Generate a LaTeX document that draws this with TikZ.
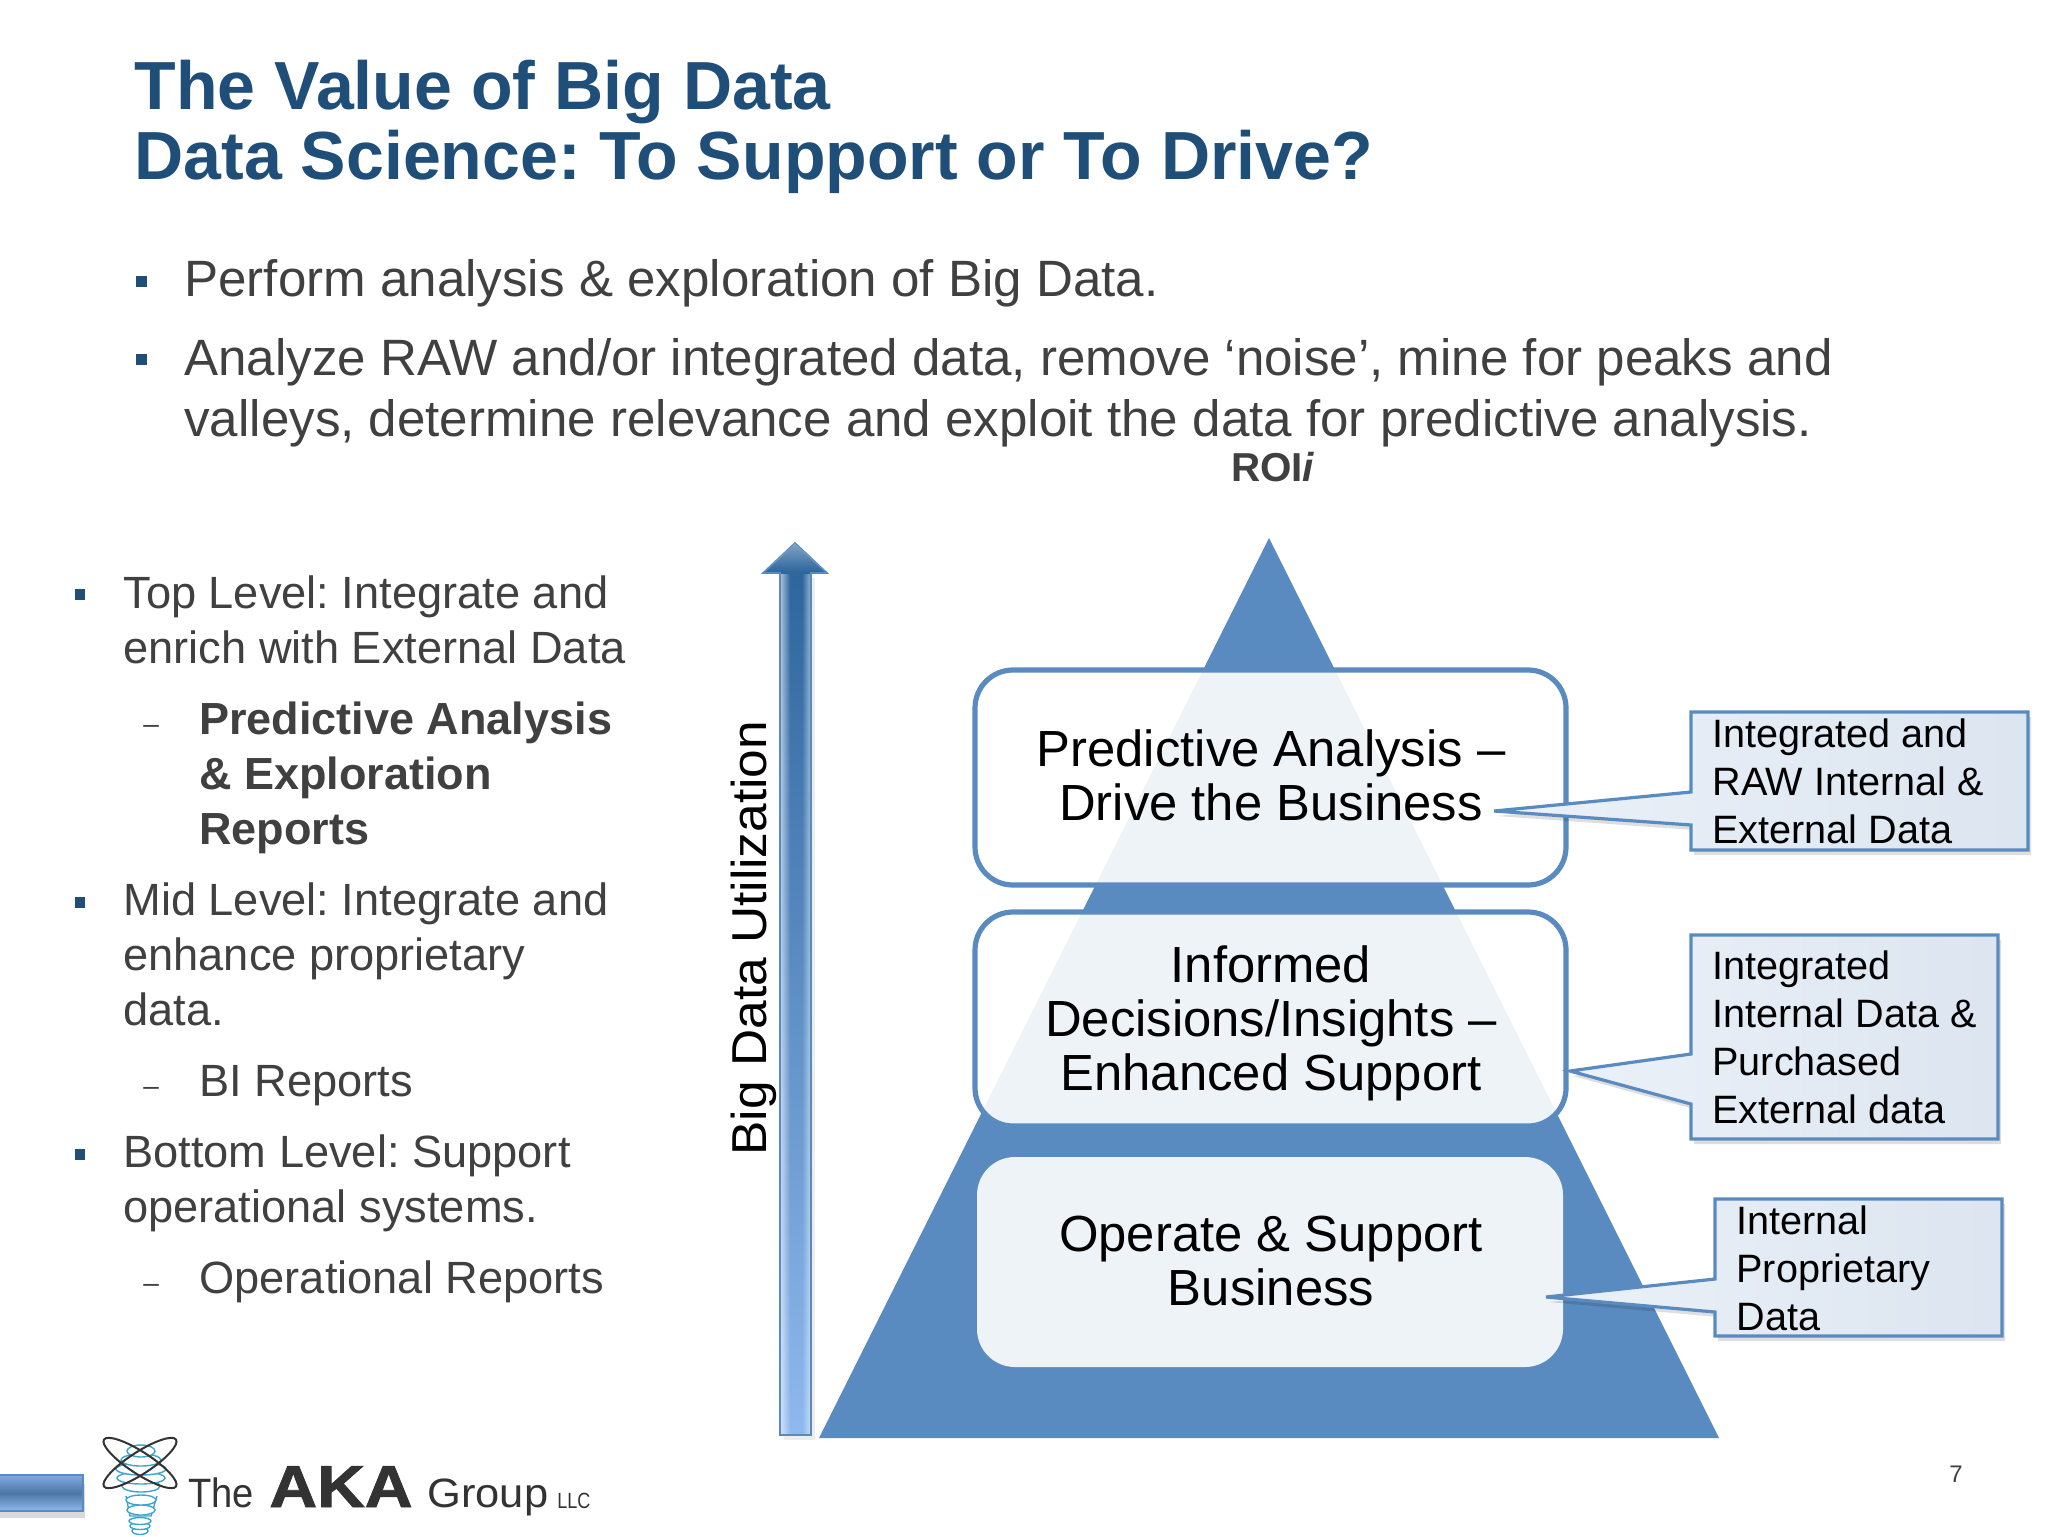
\documentclass[tikz,border=0pt]{standalone}
\usepackage{fontspec}
\setmainfont{Liberation Sans}
\newfontfamily\akafont[BoldFeatures={FakeBold=1.5}]{Liberation Sans}
\frenchspacing
\usetikzlibrary{fadings}
\definecolor{titleblue}{HTML}{1F4E79}
\definecolor{bodygray}{HTML}{404040}
\definecolor{pyr}{HTML}{5A8BC0}
\definecolor{calloutL}{HTML}{EBF1F8}
\definecolor{calloutR}{HTML}{DCE5F0}
\definecolor{bulbc}{HTML}{3FA3CC}
\definecolor{logogray}{HTML}{333333}
\definecolor{arrowtop}{HTML}{2B639B}
\definecolor{arrowbot}{HTML}{8FB9EE}
\tikzset{
  lbl/.style={anchor=base west,inner sep=0pt,align=left},
  bodytext/.style={lbl,text=bodygray,font=\fontsize{25.55}{30.5}\selectfont},
  sidetext/.style={lbl,text=bodygray,font=\fontsize{22.6}{27.5}\selectfont},
  dashtext/.style={lbl,text=bodygray,font=\fontsize{14}{16}\selectfont},
  boxtext/.style={anchor=base,inner sep=0pt,align=center,text=black,font=\fontsize{25.4}{26.8}\selectfont},
  calltext/.style={lbl,text=black,font=\fontsize{19.8}{24}\selectfont},
  bulletsq/.style={fill=titleblue,draw=none},
  tier/.style={rounded corners=19pt,fill=white,fill opacity=.9,draw=pyr,line width=2.6pt},
  callout/.style={left color=calloutL,right color=calloutR,draw=pyr,line width=1.6pt,line join=miter},
  calloutshadow/.style={fill=black,opacity=.13},
  orbit/.style={draw=logogray,line width=1pt,fill=none},
  coil/.style={draw=bulbc,line width=.7pt,fill=white},
  logotext/.style={anchor=base west,inner sep=0pt,text=logogray},
}
\begin{document}
\begin{tikzpicture}[x=.5pt,y=-.5pt]
\useasboundingbox (0,0) rectangle (2048,1536);
\fill[white] (0,0) rectangle (2048,1536);

% title
\node[lbl,text=titleblue,font=\fontsize{34.05}{35}\selectfont\bfseries] (title) at (134,179) {The Value of Big Data\\Data Science: To Support or To Drive?};

% top bullets
\fill[bulletsq] (136,276) rectangle (147,287);
\node[bodytext] (b1) at (184,296) {Perform analysis \& exploration of Big Data.};
\fill[bulletsq] (136,354) rectangle (147,365);
\node[bodytext] (b2) at (184,436) {Analyze RAW and/or integrated data, remove ‘noise’, mine for peaks and\\valleys, determine relevance and exploit the data for predictive analysis.};

\node[anchor=base,inner sep=0pt,text=bodygray,font=\fontsize{20.2}{24}\selectfont\bfseries] (roi) at (1273,481) {ROI\textit{i}};

% left column
\fill[bulletsq] (75,589) rectangle (85,600);
\node[sidetext] (s1) at (123,663) {Top Level: Integrate and\\enrich with External Data};
\node[dashtext] (d1) at (143,733) {–};
\node[sidetext,font=\fontsize{22.5}{27.5}\selectfont\bfseries] (s1a) at (199,844) {Predictive Analysis\\\& Exploration\\Reports};
\fill[bulletsq] (75,897) rectangle (85,908);
\node[sidetext] (s2) at (123,1025) {Mid Level: Integrate and\\enhance proprietary\\data.};
\node[dashtext] (d2) at (143,1095) {–};
\node[sidetext] (s2a) at (199,1096) {BI Reports};
\fill[bulletsq] (75,1149) rectangle (85,1160);
\node[sidetext] (s3) at (123,1222) {Bottom Level: Support\\operational systems.};
\node[dashtext] (d3) at (143,1292) {–};
\node[sidetext] (s3a) at (199,1293) {Operational Reports};

% pyramid
\fill[pyr] (1269,538) -- (1719,1438) -- (819,1438) -- cycle;

% tiers
\path[tier] (975,670) rectangle (1566,885);
\path[tier] (975,912) rectangle (1566,1126);
\path[tier,draw=none] (977,1157) rectangle (1563,1367);
\node[boxtext] (t1) at (1271,820) {Predictive Analysis –\\Drive the Business};
\node[boxtext] (t2) at (1271,1090) {Informed\\Decisions/Insights –\\Enhanced Support};
\node[boxtext] (t3) at (1271,1305) {Operate \& Support\\Business};

% vertical arrow
\fill[black,opacity=.07] (784,578) rectangle (815,1440);
\path[top color=arrowtop,bottom color=arrowbot,draw=pyr,line width=.8pt]
  (780,1435) -- (780,573) -- (763,573) -- (795,543) -- (827,573) -- (811,573) -- (811,1435) -- cycle;
\fill[white,opacity=.55,path fading=east] (781,574) rectangle (790,1434);
\fill[white,opacity=.45,path fading=west] (802,574) rectangle (810,1434);
\fill[white,opacity=.4,path fading=south] (795,544) -- (826,572) -- (764,572) -- cycle;
\node[anchor=base,inner sep=0pt,rotate=90,text=black,font=\fontsize{24.5}{26}\selectfont] (yl) at (766,938) {\scalebox{1.05}[1]{Big Data Utilization}};

% callouts
\fill[calloutshadow,shift={(3,5)}] (1691,712) -- (2028,712) -- (2028,850) -- (1691,850) -- (1691,825) -- (1494,811) -- (1691,792) -- cycle;
\path[callout] (1691,712) -- (2028,712) -- (2028,850) -- (1691,850) -- (1691,825) -- (1494,811) -- (1691,792) -- cycle;
\node[calltext] (c1) at (1712,843) {Integrated and\\RAW Internal \&\\External Data};
\fill[calloutshadow,shift={(3,5)}] (1691,935) -- (1998,935) -- (1998,1139) -- (1691,1139) -- (1691,1104) -- (1570,1071) -- (1691,1054) -- cycle;
\path[callout] (1691,935) -- (1998,935) -- (1998,1139) -- (1691,1139) -- (1691,1104) -- (1570,1071) -- (1691,1054) -- cycle;
\node[calltext] (c2) at (1712,1123) {Integrated\\Internal Data \&\\Purchased\\External data};
\fill[calloutshadow,shift={(3,5)}] (1715,1199) -- (2002,1199) -- (2002,1336) -- (1715,1336) -- (1715,1312) -- (1546,1297) -- (1715,1279) -- cycle;
\path[callout] (1715,1199) -- (2002,1199) -- (2002,1336) -- (1715,1336) -- (1715,1312) -- (1546,1297) -- (1715,1279) -- cycle;
\node[calltext] (c3) at (1736,1330) {Internal\\Proprietary\\Data};

% footer bar
\fill[black,opacity=.15] (0,1484) rectangle (85,1518);
\fill[white] (0,1475) rectangle (83,1511);
\shade[top color=arrowbot!70!pyr,bottom color=arrowbot,middle color=pyr!85!black] (0,1475) rectangle (83,1511);
\draw[pyr,line width=1pt] (0,1475) -- (83,1475) -- (83,1511) -- (0,1511);

% logo bulb
\foreach \yy/\w in {1531/8,1526/10,1521/11}{\draw[coil] (140,\yy) ellipse ({\w} and 3.5);}
\draw[coil] (126,1496) -- (130,1516) -- (151,1516) -- (157,1496);
\draw[coil] (141,1510) ellipse (14 and 5);
\draw[coil] (141,1500) ellipse (15 and 5);
\foreach \yy/\w in {1486/19,1478/24,1469/25,1460/20,1451/14}{\draw[coil] (141,\yy) ellipse ({\w} and 6);}
\draw[orbit,rotate around={33:(140,1463)}] (140,1463) ellipse (43 and 11);
\draw[orbit,rotate around={-33:(140,1463)}] (140,1463) ellipse (43 and 11);

% logo text
\node[logotext,font=\fontsize{20.5}{22}\selectfont] (lg1) at (188,1507) {\scalebox{.93}[1]{The}};
\node[logotext,font=\akafont\fontsize{29.5}{30}\selectfont\bfseries] (lg2) at (269,1507) {\scalebox{1.12}[1]{AKA}};
\node[logotext,font=\fontsize{20.5}{22}\selectfont] (lg3) at (427,1507) {\scalebox{1.06}[1]{Group}};
\node[logotext,font=\fontsize{11}{12}\selectfont] (lg4) at (557,1508) {\scalebox{.82}[1]{LLC}};

% page number
\node[anchor=base,inner sep=0pt,text=bodygray,font=\fontsize{12}{14}\selectfont] (pg) at (1956,1482) {7};
\end{tikzpicture}
\end{document}
